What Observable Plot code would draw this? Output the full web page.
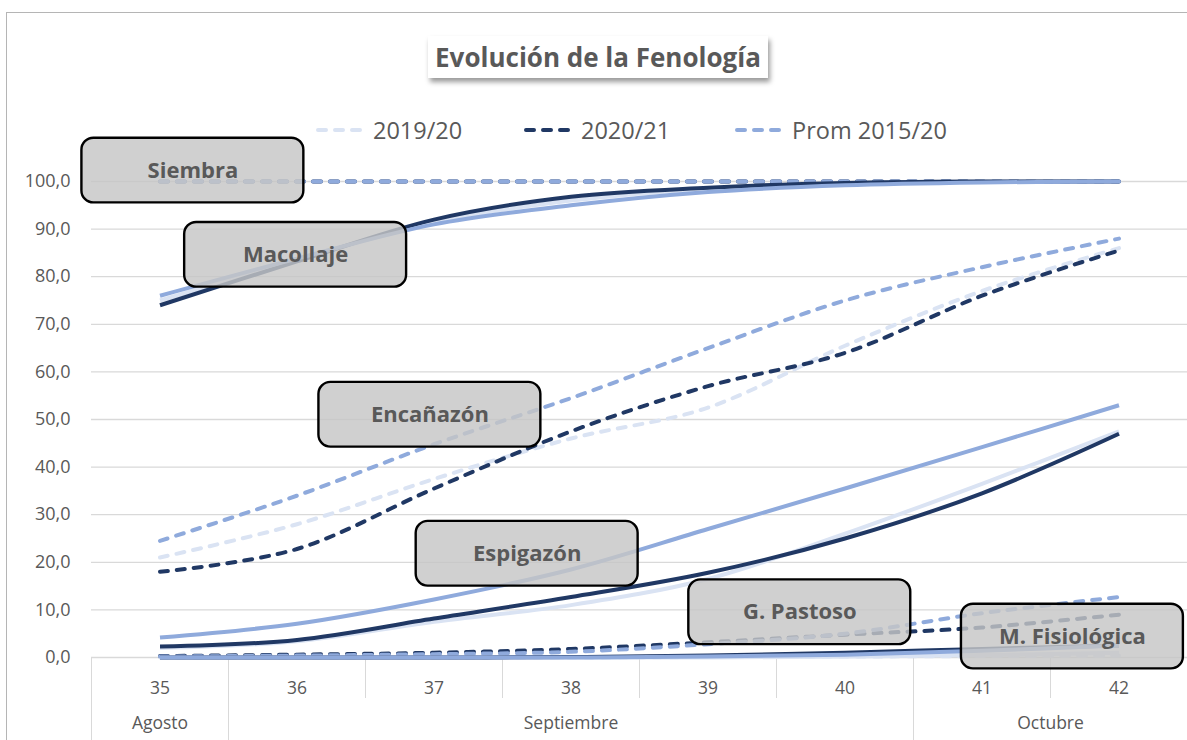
<!DOCTYPE html>
<html><head><meta charset="utf-8">
<script src="https://cdn.jsdelivr.net/npm/d3@7"></script>
<script src="https://cdn.jsdelivr.net/npm/@observablehq/plot@0.6"></script>
<style>
body{margin:0;background:#fff;font-family:"Open Sans",sans-serif;}
#wrap{position:relative;width:1187px;height:740px;overflow:hidden;background:#fff;}
#frame{position:absolute;left:6px;top:12px;width:1300px;height:900px;border:1.5px solid #b5b5b5;box-sizing:border-box;}
#chart{position:absolute;left:0;top:0;}
#title{position:absolute;left:428px;top:36px;width:340px;height:42px;background:#fff;box-shadow:2px 4px 5px rgba(0,0,0,0.4);font-weight:700;font-size:26px;color:#595959;text-align:center;line-height:42px;white-space:nowrap;}
.leg{position:absolute;top:114px;height:32px;display:flex;align-items:center;font-size:23.5px;color:#595959;white-space:nowrap;}
.leg svg{margin-right:7px;}
g[aria-label="boxes"] rect{filter:drop-shadow(3px 4px 3px rgba(0,0,0,0.45));}
g[aria-label="box labels"] text{filter:drop-shadow(1px 2px 2px rgba(0,0,0,0.35));}
</style></head>
<body>
<div id="wrap">
  <div id="frame"></div>
  <div id="chart"></div>
  <div id="title">Evolución de la Fenología</div>
  <div id="legend"></div>
</div>
<script>
// ---- data ----
const weeks = [35, 36, 37, 38, 39, 40, 41, 42];
const seasons = ["2019/20", "2020/21", "Prom 2015/20"];
const seasonColors = ["#dae3f3", "#203864", "#8faadc"];
const stages = ["Siembra", "Macollaje", "Encañazón", "Espigazón", "G. Pastoso", "M. Fisiológica"];
const stageDashed = [true, false, true, false, true, false];
const months = ["Agosto", "Septiembre", "Octubre"];
const monthWeeks = [[35], [36, 37, 38, 39, 40], [41, 42]];
const yTicks = [0, 10, 20, 30, 40, 50, 60, 70, 80, 90, 100];

const siembra2019 = [100, 100, 100, 100, 100, 100, 100, 100];
const siembra2020 = [100, 100, 100, 100, 100, 100, 100, 100];
const siembraProm = [100, 100, 100, 100, 100, 100, 100, 100];

const macollaje2019 = [75, 83.4, 91.5, 96, 98.5, 99.5, 100, 100];
const macollaje2020 = [74, 83.2, 92, 96.8, 98.7, 99.7, 100, 100];
const macollajeProm = [76, 83.8, 91, 95, 97.8, 99.2, 99.8, 100];

const encanazon2019 = [21, 28, 37.5, 46, 52.5, 65.5, 77, 86];
const encanazon2020 = [18, 22.8, 35.5, 47.5, 57, 64, 76, 85.5];
const encanazonProm = [24.5, 34, 44.8, 54.5, 65, 75, 82, 88];

const espigazon2019 = [2, 3.4, 7.5, 11, 16.5, 26, 36.5, 47.5];
const espigazon2020 = [2.3, 3.7, 8.2, 12.7, 17.8, 25, 34.5, 47];
const espigazonProm = [4.2, 7.1, 12.2, 18.5, 27, 35.5, 44.2, 53];

const pastoso2019 = [0, 0, 0, 0, 0.1, 0.2, 0.3, 0.4];
const pastoso2020 = [0.3, 0.6, 1.0, 1.8, 3.2, 4.8, 6.3, 9];
const pastosoProm = [0.2, 0.4, 0.7, 1.2, 2.8, 5, 9.3, 12.7];

const fisiologica2019 = [0, 0, 0, 0, 0, 0.2, 0.5, 1];
const fisiologica2020 = [0, 0, 0, 0.1, 0.4, 1, 1.8, 2.5];
const fisiologicaProm = [0, 0, 0, 0, 0.2, 0.6, 1.4, 2.5];

// annotation label positions (week, %)
const labelNames = ["Siembra", "Macollaje", "Encañazón", "Espigazón", "G. Pastoso", "M. Fisiológica"];
const labelWeek = [35.24, 35.99, 36.97, 37.68, 39.67, 41.66];
const labelValue = [102.3, 84.6, 51, 21.8, 9.5, 4.4];

// ---- build table ----
const stageSeries = [
  [siembra2019, siembra2020, siembraProm],
  [macollaje2019, macollaje2020, macollajeProm],
  [encanazon2019, encanazon2020, encanazonProm],
  [espigazon2019, espigazon2020, espigazonProm],
  [pastoso2019, pastoso2020, pastosoProm],
  [fisiologica2019, fisiologica2020, fisiologicaProm]
];
const rows = [];
stages.forEach((stage, si) => {
  seasons.forEach((season, k) => {
    stageSeries[si][k].forEach((v, i) => rows.push({stage, season, week: weeks[i], value: v, key: stage + "|" + season}));
  });
});
const annotations = labelNames.map((t, i) => ({label: t, x: labelWeek[i], y: labelValue[i]}));

const boxHalfW = 0.81, boxHalfH = 6.8;
const weekBounds = weeks.slice(0, -1).map(w => w + 0.5);
const monthBounds = [];
let acc = weeks[0] - 0.5;
monthBounds.push(acc);
monthWeeks.forEach(ws => { acc += ws.length; monthBounds.push(acc); });
const monthCenters = monthWeeks.map(ws => (ws[0] + ws[ws.length - 1]) / 2);

const lineMarks = stages.map((stage, si) => Plot.line(rows.filter(d => d.stage === stage), {
  x: "week", y: "value", z: "key", stroke: "season",
  strokeWidth: 4, curve: "cardinal",
  strokeDasharray: stageDashed[si] ? "8,9" : null,
  strokeLinecap: stageDashed[si] ? "round" : "butt"
}));

const chart = Plot.plot({
  width: 1187, height: 740,
  marginLeft: 91, marginRight: 0, marginTop: 181, marginBottom: 83,
  style: {fontFamily: "Open Sans", background: "transparent", overflow: "visible"},
  x: {domain: [weeks[0] - 0.5, weeks[weeks.length - 1] + 0.5]},
  y: {domain: [0, 100]},
  color: {domain: seasons, range: seasonColors},
  marks: [
    Plot.gridY(yTicks, {stroke: "#d9d9d9", strokeOpacity: 1, strokeWidth: 1.3}),
    Plot.axisY(yTicks, {tickSize: 0, tickPadding: 21, fontSize: 18, fill: "#595959",
      tickFormat: d => d.toFixed(1).replace(".", ","), label: null}),
    Plot.axisX(weekBounds, {tickSize: 41, stroke: "#d9d9d9", strokeOpacity: 1, tickFormat: () => "", label: null}),
    Plot.axisX(monthBounds, {tickSize: 83, stroke: "#d9d9d9", strokeOpacity: 1, tickFormat: () => "", label: null}),
    Plot.axisX(weeks, {tickSize: 0, tickPadding: 24, fontSize: 17.5, fill: "#595959", tickFormat: d => String(d), label: null}),
    Plot.axisX(monthCenters, {tickSize: 0, tickPadding: 59, fontSize: 17.5, fill: "#595959",
      tickFormat: (d, i) => months[i], label: null}),
    ...lineMarks,
    Plot.rect(annotations, {
      x1: d => d.x - boxHalfW, x2: d => d.x + boxHalfW,
      y1: d => d.y - boxHalfH, y2: d => d.y + boxHalfH,
      fill: "#c6c6c6", fillOpacity: 0.82, stroke: "#000", strokeWidth: 2.4, rx: 12, ariaLabel: "boxes"
    }),
    Plot.text(annotations, {x: "x", y: "y", text: "label", fontSize: 22, fontWeight: 700, fill: "#595959", ariaLabel: "box labels"})
  ]
});
document.getElementById("chart").appendChild(chart);

// legend
const legendX = [316, 524, 735];
const leg = document.getElementById("legend");
seasons.forEach((s, i) => {
  const div = document.createElement("div");
  div.className = "leg";
  div.style.left = legendX[i] + "px";
  div.innerHTML = `<svg width="50" height="10"><line x1="2" y1="5" x2="48" y2="5" stroke="${seasonColors[i]}" stroke-width="4" stroke-dasharray="8,9" stroke-linecap="round"/></svg><span>${s}</span>`;
  leg.appendChild(div);
});
</script>
</body></html>
